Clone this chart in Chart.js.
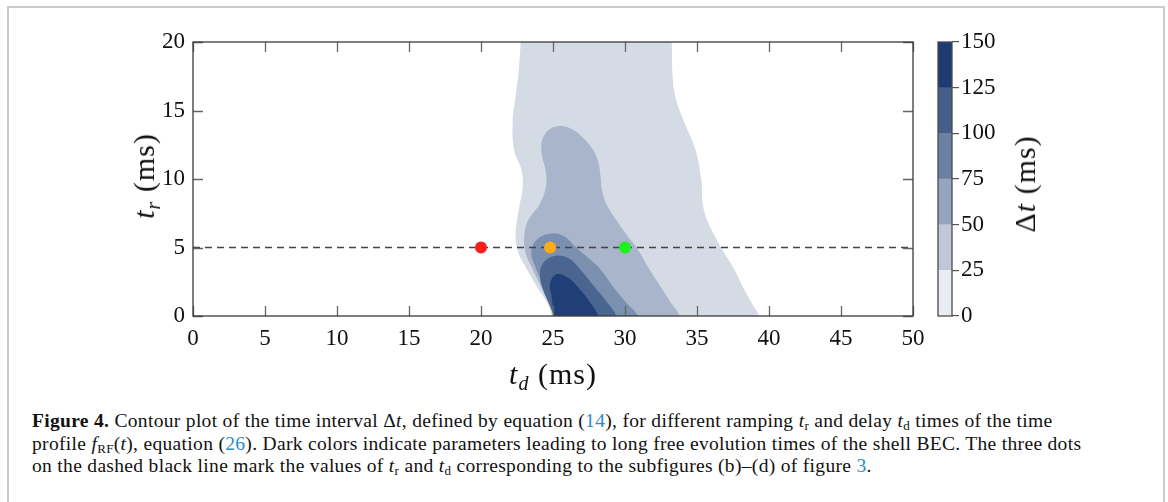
<!DOCTYPE html>
<html>
<head>
<meta charset="utf-8">
<script src="https://cdn.jsdelivr.net/npm/chart.js@4.4.1/dist/chart.umd.min.js"></script>
<style>
  html, body { margin: 0; padding: 0; background: #fff; }
  body { width: 1168px; height: 502px; overflow: hidden; position: relative; font-family: "Liberation Serif", serif; color: #111; }
  #frame { position: absolute; left: 7px; top: 6px; width: 1158px; height: 600px; box-sizing: border-box; border: 2px solid #cbcbcb; }
  #main { position: absolute; left: 0; top: 0; }
  #cbar { position: absolute; left: 930px; top: 0; }
  .lbl { position: absolute; font-size: 30px; letter-spacing: 1px; white-space: nowrap; line-height: 1; }
  .lbl sub { font-size: 20px; vertical-align: -6px; line-height: 0; }
  #ylab { left: 144px; top: 176px; transform: translate(-50%, -50%) rotate(-90deg); }
  #xlab { left: 553px; top: 374px; transform: translate(-50%, -50%); }
  #clab { left: 1025px; top: 184px; transform: translate(-50%, -50%) rotate(-90deg); }
  #caption { position: absolute; left: 32px; top: 410px; font-size: 19.5px; letter-spacing: 0.32px; line-height: 22.5px; white-space: nowrap; }
  #caption a { color: #2a8cc4; text-decoration: none; }
  #caption sub { font-size: 13px; vertical-align: -3px; line-height: 0; }
</style>
</head>
<body>
<div id="frame"></div>
<canvas id="main" width="930" height="360"></canvas>
<canvas id="cbar" width="110" height="360"></canvas>
<div class="lbl" id="ylab"><i>t</i><sub><i>r</i></sub> (ms)</div>
<div class="lbl" id="xlab"><i>t</i><sub><i>d</i></sub> (ms)</div>
<div class="lbl" id="clab">Δ<i>t</i> (ms)</div>
<div id="caption">
<b>Figure 4.</b> Contour plot of the time interval Δ<i>t</i>, defined by equation (<a>14</a>), for different ramping <i>t</i><sub>r</sub> and delay <i>t</i><sub>d</sub> times of the time<br>
profile <i>f</i><sub>RF</sub>(<i>t</i>), equation (<a>26</a>). Dark colors indicate parameters leading to long free evolution times of the shell BEC. The three dots<br>
on the dashed black line mark the values of <i>t</i><sub>r</sub> and <i>t</i><sub>d</sub> corresponding to the subfigures (b)–(d) of figure <a>3</a>.
</div>
<script>
// contour bands, [t_d, t_r] in ms, outermost (25-50) to innermost (125-150)
const band1 = [[25.3,-2],[24.9,0],[24.6,0.95],[23.9,2.1],[23.2,3.4],[22.6,4.6],[22.4,5.8],[22.5,7.0],[22.7,8.2],[22.9,9.4],[22.8,10.7],[22.3,12.1],[22.2,14.3],[22.4,16.0],[22.6,17.7],[22.75,19.9],[22.8,21.5],
  [33.2,21.5],[33.25,19.9],[33.3,17.7],[33.5,16.0],[34.05,14.3],[34.9,12.1],[35.3,9.9],[35.4,8.2],[35.7,7.0],[36.25,5.8],[36.9,4.6],[37.6,3.4],[38.2,2.1],[38.8,0.95],[39.3,0],[39.8,-2],[25.3,-2]];
const band2 = [[25.3,-2],[25.0,0],[24.7,0.95],[24.2,2.1],[23.6,3.4],[23.1,4.6],[23.0,5.8],[23.2,6.8],[23.6,7.5],[24.1,8.2],[24.5,9.4],[24.5,10.5],[24.2,12.0],[24.3,13.0],[24.8,13.65],[25.5,13.87],
  [26.2,13.7],[26.9,13.2],[27.6,12.4],[28.1,11.4],[28.3,10.2],[28.4,9.2],[28.7,8.2],[29.4,7.0],[30.2,5.8],[30.8,5.0],[31.7,3.4],[32.5,2.1],[33.2,0.95],[33.8,0],[34.3,-2],[25.3,-2]];
const band3 = [[25.4,-2],[25.05,0],[24.8,0.95],[24.4,2.1],[23.85,3.4],[23.5,4.6],[23.85,5.55],[24.9,6.03],[25.8,5.8],[26.6,5.0],[27.6,4.1],[28.3,3.4],[29.2,2.1],[30.1,0.95],[30.9,0],[31.5,-2],[25.4,-2]];
const band4 = [[25.4,-2],[25.05,0],[24.7,0.95],[24.35,1.8],[24.1,2.87],[24.3,3.85],[25.1,4.38],[26.1,4.2],[26.9,3.4],[27.9,2.1],[28.8,0.95],[29.4,0],[29.9,-2],[25.4,-2]];
const band5 = [[25.4,-2],[25.1,0],[24.9,1.41],[24.8,2.38],[25.25,3.04],[26.1,2.75],[26.9,1.9],[27.6,0.95],[28.15,0],[28.6,-2],[25.4,-2]];
const bandColors = ['#d5dbe5', '#a8b5ca', '#7b8fae', '#4b6591', '#1f3f76'];

// dashed line t_r = 5 and the three marked points
const cutLine = [[0,5],[50,5]];
const dotsTd = [20, 24.8, 30];
const dotsTr = [5, 5, 5];
const dotColors = ['#fb1c1c', '#fbab1c', '#1ef21e'];

const xTicks = [0, 5, 10, 15, 20, 25, 30, 35, 40, 45, 50];
const yTicks = [0, 5, 10, 15, 20];

// colorbar
const levels = [0, 25, 50, 75, 100, 125, 150];
const levelColors = ['#e9ecf1', '#c0c8d8', '#94a5bf', '#6b80a2', '#455f8b', '#1d3b72'];

Chart.defaults.font.family = '"Liberation Serif", serif';
Chart.defaults.color = '#111';

const toPts = arr => arr.map(p => ({x: p[0], y: p[1]}));

const frameTicks = {
  id: 'frameTicks',
  afterDatasetsDraw(chart) {
    const {ctx, chartArea: a, scales: {x, y}} = chart;
    ctx.save();
    ctx.strokeStyle = '#666';
    ctx.lineWidth = 1.3;
    ctx.beginPath();
    xTicks.forEach(v => {
      const px = Math.round(x.getPixelForValue(v)) + 0.5;
      ctx.moveTo(px, a.bottom); ctx.lineTo(px, a.bottom - 10);
      ctx.moveTo(px, a.top); ctx.lineTo(px, a.top + 10);
    });
    yTicks.forEach(v => {
      const py = Math.round(y.getPixelForValue(v)) + 0.5;
      ctx.moveTo(a.left, py); ctx.lineTo(a.left + 10, py);
      ctx.moveTo(a.right, py); ctx.lineTo(a.right - 10, py);
    });
    ctx.stroke();
    ctx.strokeStyle = '#3a3a3a';
    ctx.strokeRect(a.left, a.top, a.width, a.height);
    ctx.restore();
  }
};

const bands = [band1, band2, band3, band4, band5].map((b, i) => ({
  type: 'scatter',
  data: toPts(b),
  showLine: true,
  fill: 'shape',
  backgroundColor: bandColors[i],
  borderWidth: 0,
  borderColor: 'rgba(0,0,0,0)',
  pointRadius: 0,
  tension: 0.4,
  capBezierPoints: false,
  order: 20 - i
}));

new Chart(document.getElementById('main'), {
  type: 'scatter',
  data: {
    datasets: [
      ...bands,
      {
        data: toPts(cutLine),
        showLine: true,
        borderColor: '#444',
        borderWidth: 1.4,
        borderDash: [7, 5],
        pointRadius: 0,
        fill: false,
        order: 2
      },
      {
        data: dotsTd.map((v, i) => ({x: v, y: dotsTr[i]})),
        pointRadius: 6,
        pointBorderWidth: 0,
        pointBackgroundColor: dotColors,
        order: 1
      }
    ]
  },
  options: {
    responsive: false,
    animation: false,
    devicePixelRatio: 1,
    layout: { padding: { top: 42, right: 17, left: 0, bottom: 0 } },
    plugins: { legend: { display: false }, tooltip: { enabled: false } },
    scales: {
      x: {
        type: 'linear', min: 0, max: 50,
        afterBuildTicks: s => { s.ticks = xTicks.map(v => ({value: v})); },
        ticks: { font: { size: 23 }, padding: 9, maxRotation: 0 },
        grid: { display: false, drawTicks: false },
        border: { display: false },
        afterFit: s => { s.height = 44; s.paddingLeft = 0; s.paddingRight = 0; }
      },
      y: {
        type: 'linear', min: 0, max: 20,
        afterBuildTicks: s => { s.ticks = yTicks.map(v => ({value: v})); },
        ticks: { font: { size: 23 }, padding: 8 },
        grid: { display: false, drawTicks: false },
        border: { display: false },
        afterFit: s => { s.width = 193; s.paddingTop = 0; s.paddingBottom = 0; }
      }
    }
  },
  plugins: [frameTicks]
});

const cbarFrame = {
  id: 'cbarFrame',
  afterDatasetsDraw(chart) {
    const {ctx, chartArea: a} = chart;
    ctx.save();
    ctx.strokeStyle = '#4a4a4a';
    ctx.lineWidth = 1.3;
    ctx.strokeRect(a.left, a.top, a.width, a.height);
    ctx.restore();
  }
};

new Chart(document.getElementById('cbar'), {
  type: 'bar',
  data: {
    labels: [''],
    datasets: levelColors.map((c, i) => ({
      data: [levels[i + 1] - levels[i]],
      backgroundColor: c,
      borderWidth: 0,
      barPercentage: 1,
      categoryPercentage: 1
    }))
  },
  options: {
    responsive: false,
    animation: false,
    devicePixelRatio: 1,
    layout: { padding: { top: 42, left: 8, right: 0, bottom: 44 } },
    plugins: { legend: { display: false }, tooltip: { enabled: false } },
    scales: {
      x: { stacked: true, display: false },
      y: {
        stacked: true, position: 'right', min: 0, max: 150,
        afterBuildTicks: s => { s.ticks = levels.map(v => ({value: v})); },
        ticks: { font: { size: 23 }, padding: 2 },
        grid: { drawOnChartArea: false, drawTicks: true, tickLength: 7, color: '#555', lineWidth: 1.2 },
        border: { display: false },
        afterFit: s => { s.width = 88; s.paddingTop = 0; s.paddingBottom = 0; }
      }
    }
  },
  plugins: [cbarFrame]
});
</script>
</body>
</html>
